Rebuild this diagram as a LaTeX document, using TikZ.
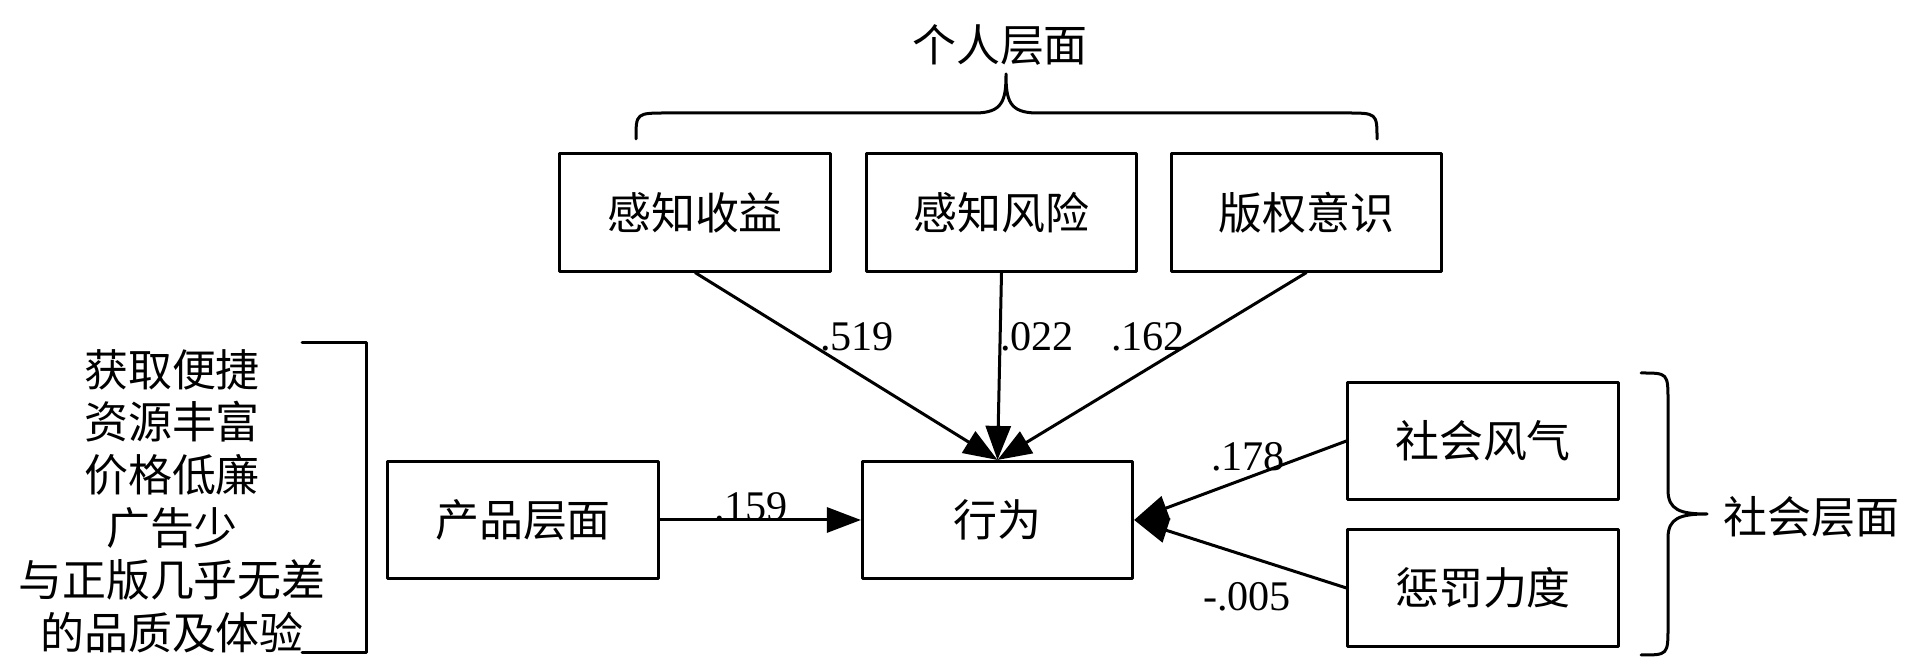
\documentclass[tikz,border=0pt]{standalone}
\usepackage{fontspec}
\setmainfont{Liberation Serif}
\newfontfamily\cjk{Noto Sans CJK SC}
\usetikzlibrary{arrows.meta}

\tikzset{
  factor/.style={draw, line width=0.03cm, minimum width=2.7cm, minimum height=1.17cm,
    inner sep=0pt, font=\cjk\fontsize{12.5pt}{14.96pt}\selectfont},
  group/.style={inner sep=0pt, font=\cjk\fontsize{12.5pt}{14.96pt}\selectfont},
  coef/.style={inner sep=0pt, font=\fontsize{12pt}{14pt}\selectfont},
  link/.style={line width=0.03cm, -{Triangle[length=0.34cm, width=0.25cm]}},
  bracket/.style={line width=0.03cm, line cap=round}
}

\begin{document}
\begin{tikzpicture}[x=0.01cm, y=-0.01cm, line join=round]
\useasboundingbox (0,0) rectangle (1919,671);
% factors
\node[factor] (benefit) at (695,212.5) {感知收益};
\node[factor] (risk) at (1001.5,212.5) {感知风险};
\node[factor] (copyright) at (1306.5,212.5) {版权意识};
\node[factor] (product) at (523,520) {产品层面};
\node[factor] (behavior) at (997.5,520) {行为};
\node[factor] (climate) at (1483,441) {社会风气};
\node[factor] (penalty) at (1483,588) {惩罚力度};
% paths
\draw[link] (benefit.south) -- (behavior.north);
\draw[link] (risk.south) -- (behavior.north);
\draw[link] (copyright.south) -- (behavior.north);
\draw[link] (product.east) -- (behavior.west);
\draw[link] (climate.west) -- (behavior.east);
\draw[link] (penalty.west) -- (behavior.east);
% coefficients
\node[coef] (c519) at (857,337) {.519};
\node[coef] (c022) at (1037,337) {.022};
\node[coef] (c162) at (1148,337) {.162};
\node[coef] (c159) at (751,507) {.159};
\node[coef] (c178) at (1248,457) {.178};
\node[coef] (c005) at (1247,597) {-.005};
% individual level
\draw[bracket] (636,139) .. controls (636,113) .. (668,113) -- (975,113)
  .. controls (1003,113) and (1006,100) .. (1006,74)
  .. controls (1006,100) and (1009,113) .. (1037,113) -- (1345,113)
  .. controls (1377,113) .. (1377,139);
\node[group] (personal) at (1000,45) {个人层面};
% social level
\draw[bracket] (1641,373) .. controls (1668,373) .. (1668,402) -- (1668,490)
  .. controls (1668,510) and (1680,514) .. (1707,514)
  .. controls (1680,514) and (1668,518) .. (1668,538) -- (1668,626)
  .. controls (1668,655) .. (1641,655);
\node[group, anchor=west] (social) at (1723,517) {社会层面};
% product level
\draw[bracket] (302,343) -- (366,343) -- (366,653) -- (302,653);
\node[group, align=center] (items) at (172,501) {获取便捷\\资源丰富\\价格低廉\\广告少\\与正版几乎无差\\的品质及体验};
\end{tikzpicture}
\end{document}
